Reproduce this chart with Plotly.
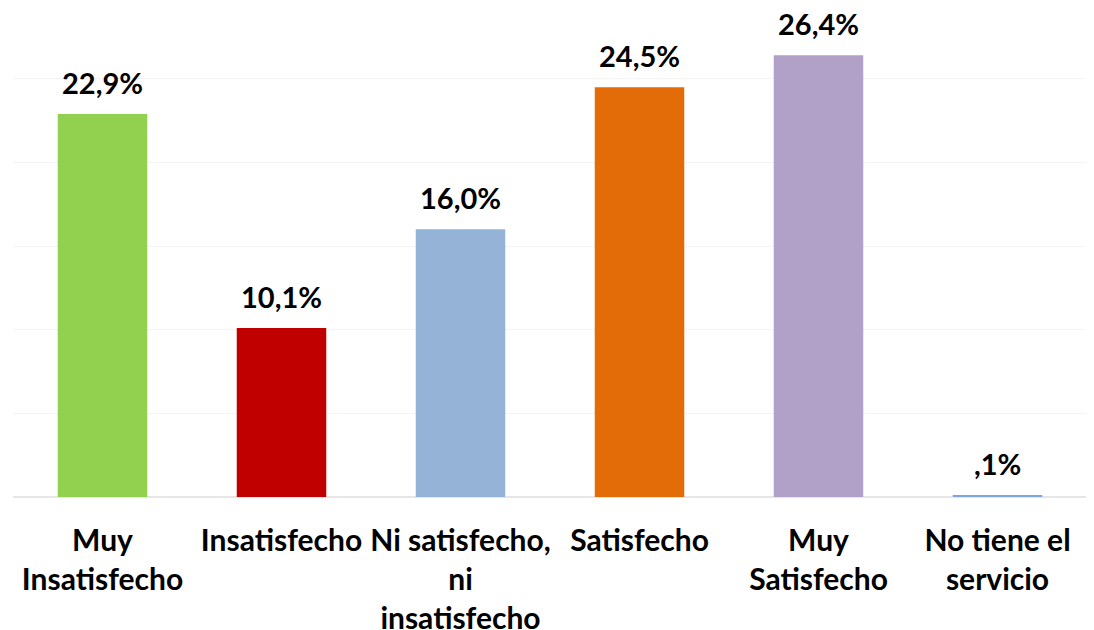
import plotly.graph_objects as go

categories = ["Muy<br>Insatisfecho", "Insatisfecho", "Ni satisfecho,<br>ni<br>insatisfecho",
              "Satisfecho", "Muy<br>Satisfecho", "No tiene el<br>servicio"]
values = [22.9, 10.1, 16.0, 24.5, 26.4, 0.1]
value_labels = ["22,9%", "10,1%", "16,0%", "24,5%", "26,4%", ",1%"]
colors = ["#92D050", "#C00000", "#95B3D7", "#E36C09", "#B1A0C7", "#7FA6DA"]

FONT = "Lato"

fig = go.Figure()
fig.add_trace(go.Bar(
    x=list(range(len(categories))), y=values,
    marker=dict(color=colors, line=dict(width=0)),
    width=0.5, showlegend=False, hoverinfo="skip",
))

for i, (v, t) in enumerate(zip(values, value_labels)):
    fig.add_annotation(x=i, y=v, text=f"<b>{t}</b>", showarrow=False,
                       yanchor="bottom", yshift=12,
                       font=dict(family=FONT, size=29, color="#000000"))

fig.update_layout(
    width=1086, height=622,
    margin=dict(l=5, r=7, t=0, b=133),
    paper_bgcolor="white", plot_bgcolor="white",
    font=dict(family=FONT, size=29, color="#000000"),
    bargap=0.5,
)
fig.update_xaxes(
    tickmode="array", tickvals=list(range(len(categories))),
    ticktext=[f"<b>{c}</b>" for c in categories],
    range=[-0.5, len(categories) - 0.5],
    showgrid=False, showline=False,
    ticks="outside", ticklen=17, tickcolor="rgba(0,0,0,0)",
    automargin=False,
    tickfont=dict(family=FONT, size=30, color="#000000"),
)
fig.update_yaxes(
    range=[0, 29.23], dtick=5, showticklabels=False, automargin=False,
    showgrid=True, gridcolor="#F4F4F4", gridwidth=1,
    zeroline=True, zerolinecolor="#E6E6E6", zerolinewidth=2,
)

fig.write_html("out.html")
